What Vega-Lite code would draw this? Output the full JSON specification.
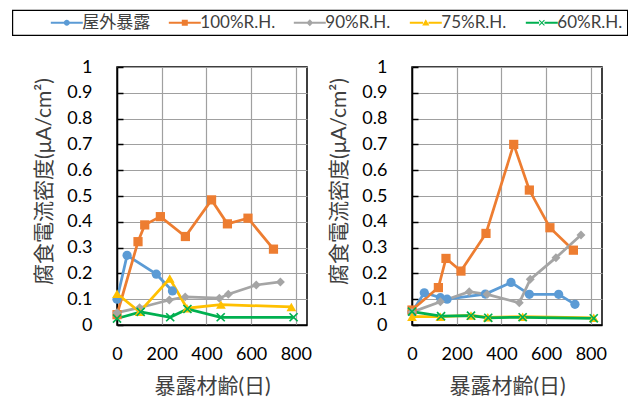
{
  "$schema": "https://vega.github.io/schema/vega-lite/v6.json",
  "background": "white",
  "padding": {"left": 11, "top": 9, "right": 0, "bottom": 0},
  "datasets": {
    "d": [
      {"panel": "L", "series": "屋外暴露", "day": 0, "i": 0.10},
      {"panel": "L", "series": "屋外暴露", "day": 45, "i": 0.27},
      {"panel": "L", "series": "屋外暴露", "day": 176, "i": 0.197},
      {"panel": "L", "series": "屋外暴露", "day": 248, "i": 0.132},
      {"panel": "L", "series": "100%R.H.", "day": 0, "i": 0.04},
      {"panel": "L", "series": "100%R.H.", "day": 94, "i": 0.323},
      {"panel": "L", "series": "100%R.H.", "day": 124, "i": 0.388},
      {"panel": "L", "series": "100%R.H.", "day": 194, "i": 0.42},
      {"panel": "L", "series": "100%R.H.", "day": 306, "i": 0.343},
      {"panel": "L", "series": "100%R.H.", "day": 423, "i": 0.485},
      {"panel": "L", "series": "100%R.H.", "day": 494, "i": 0.392},
      {"panel": "L", "series": "100%R.H.", "day": 586, "i": 0.414},
      {"panel": "L", "series": "100%R.H.", "day": 700, "i": 0.294},
      {"panel": "L", "series": "90%R.H.", "day": 0, "i": 0.048},
      {"panel": "L", "series": "90%R.H.", "day": 101, "i": 0.067},
      {"panel": "L", "series": "90%R.H.", "day": 234, "i": 0.097},
      {"panel": "L", "series": "90%R.H.", "day": 305, "i": 0.109},
      {"panel": "L", "series": "90%R.H.", "day": 458, "i": 0.104},
      {"panel": "L", "series": "90%R.H.", "day": 498, "i": 0.119},
      {"panel": "L", "series": "90%R.H.", "day": 623, "i": 0.155},
      {"panel": "L", "series": "90%R.H.", "day": 731, "i": 0.167},
      {"panel": "L", "series": "75%R.H.", "day": 0, "i": 0.121},
      {"panel": "L", "series": "75%R.H.", "day": 101, "i": 0.051},
      {"panel": "L", "series": "75%R.H.", "day": 236, "i": 0.18},
      {"panel": "L", "series": "75%R.H.", "day": 313, "i": 0.065},
      {"panel": "L", "series": "75%R.H.", "day": 465, "i": 0.079},
      {"panel": "L", "series": "75%R.H.", "day": 780, "i": 0.07},
      {"panel": "L", "series": "60%R.H.", "day": 0, "i": 0.025},
      {"panel": "L", "series": "60%R.H.", "day": 106, "i": 0.051},
      {"panel": "L", "series": "60%R.H.", "day": 238, "i": 0.03},
      {"panel": "L", "series": "60%R.H.", "day": 315, "i": 0.062},
      {"panel": "L", "series": "60%R.H.", "day": 464, "i": 0.03},
      {"panel": "L", "series": "60%R.H.", "day": 790, "i": 0.03},
      {"panel": "R", "series": "屋外暴露", "day": 0, "i": 0.05},
      {"panel": "R", "series": "屋外暴露", "day": 55, "i": 0.125},
      {"panel": "R", "series": "屋外暴露", "day": 127, "i": 0.106},
      {"panel": "R", "series": "屋外暴露", "day": 157, "i": 0.10},
      {"panel": "R", "series": "屋外暴露", "day": 328, "i": 0.12},
      {"panel": "R", "series": "屋外暴露", "day": 443, "i": 0.165},
      {"panel": "R", "series": "屋外暴露", "day": 525, "i": 0.119},
      {"panel": "R", "series": "屋外暴露", "day": 656, "i": 0.119},
      {"panel": "R", "series": "屋外暴露", "day": 729, "i": 0.08},
      {"panel": "R", "series": "100%R.H.", "day": 0, "i": 0.058},
      {"panel": "R", "series": "100%R.H.", "day": 118, "i": 0.145},
      {"panel": "R", "series": "100%R.H.", "day": 152, "i": 0.258},
      {"panel": "R", "series": "100%R.H.", "day": 219, "i": 0.209},
      {"panel": "R", "series": "100%R.H.", "day": 331, "i": 0.355},
      {"panel": "R", "series": "100%R.H.", "day": 455, "i": 0.70},
      {"panel": "R", "series": "100%R.H.", "day": 525, "i": 0.523},
      {"panel": "R", "series": "100%R.H.", "day": 617, "i": 0.377},
      {"panel": "R", "series": "100%R.H.", "day": 722, "i": 0.29},
      {"panel": "R", "series": "90%R.H.", "day": 0, "i": 0.05},
      {"panel": "R", "series": "90%R.H.", "day": 127, "i": 0.09},
      {"panel": "R", "series": "90%R.H.", "day": 256, "i": 0.129},
      {"panel": "R", "series": "90%R.H.", "day": 336, "i": 0.119},
      {"panel": "R", "series": "90%R.H.", "day": 480, "i": 0.086},
      {"panel": "R", "series": "90%R.H.", "day": 529, "i": 0.177},
      {"panel": "R", "series": "90%R.H.", "day": 644, "i": 0.261},
      {"panel": "R", "series": "90%R.H.", "day": 756, "i": 0.349},
      {"panel": "R", "series": "75%R.H.", "day": 0, "i": 0.032},
      {"panel": "R", "series": "75%R.H.", "day": 127, "i": 0.032},
      {"panel": "R", "series": "75%R.H.", "day": 264, "i": 0.037},
      {"panel": "R", "series": "75%R.H.", "day": 339, "i": 0.03},
      {"panel": "R", "series": "75%R.H.", "day": 495, "i": 0.032},
      {"panel": "R", "series": "75%R.H.", "day": 813, "i": 0.028},
      {"panel": "R", "series": "60%R.H.", "day": 0, "i": 0.052},
      {"panel": "R", "series": "60%R.H.", "day": 130, "i": 0.034},
      {"panel": "R", "series": "60%R.H.", "day": 264, "i": 0.036},
      {"panel": "R", "series": "60%R.H.", "day": 341, "i": 0.028},
      {"panel": "R", "series": "60%R.H.", "day": 495, "i": 0.03},
      {"panel": "R", "series": "60%R.H.", "day": 813, "i": 0.026}
    ]
  },
  "spacing": 15,
  "hconcat": [
    {
      "width": 190,
      "height": 258,
      "data": {"name": "d"},
      "transform": [{"filter": "datum.panel === 'L'"}],
      "encoding": {
        "x": {"field": "day", "type": "quantitative", "title": "暴露材齢(日)",
              "scale": {"domain": [0, 850], "nice": false, "zero": true},
              "axis": {"values": [0, 200, 400, 600, 800]}},
        "y": {"field": "i", "type": "quantitative", "title": "腐食電流密度(μA/cm²)",
              "scale": {"domain": [0, 1], "nice": false},
              "axis": {"values": [0, 0.1, 0.2, 0.3, 0.4, 0.5, 0.6, 0.7, 0.8, 0.9, 1], "format": "~g"}},
        "color": {"field": "series", "type": "nominal", "title": " ",
                  "scale": {"domain": ["屋外暴露", "100%R.H.", "90%R.H.", "75%R.H.", "60%R.H."],
                            "range": ["#5B9BD5", "#ED7D31", "#A5A5A5", "#FFC000", "#00B050"]},
                  "legend": {"encode": {"symbols": {"update": {"shape": {"signal": "datum.value === '屋外暴露' ? 'M-5.33,-0.35H-0.9V0.35H-5.33Z M0.9,-0.35H5.33V0.35H0.9Z M-1,0A1,1 0 1,1 1,0A1,1 0 1,1 -1,0Z' : datum.value === '100%R.H.' ? 'M-5.33,-0.35H-0.9V0.35H-5.33Z M0.9,-0.35H5.33V0.35H0.9Z M-1,-1H1V1H-1Z' : datum.value === '90%R.H.' ? 'M-5.33,-0.35H-0.9V0.35H-5.33Z M0.9,-0.35H5.33V0.35H0.9Z M0,-1.15L1.15,0L0,1.15L-1.15,0Z' : datum.value === '75%R.H.' ? 'M-5.33,-0.35H-0.9V0.35H-5.33Z M0.9,-0.35H5.33V0.35H0.9Z M0,-1.2L1.2,0.9L-1.2,0.9Z' : 'M-5.33,-0.35H-0.9V0.35H-5.33Z M0.9,-0.35H5.33V0.35H0.9Z M-1,-0.75L-0.75,-1L0,-0.25L0.75,-1L1,-0.75L0.25,0L1,0.75L0.75,1L0,0.25L-0.75,1L-1,0.75L-0.25,0Z'"}, "fill": {"scale": "color", "field": "value"}, "stroke": {"value": "transparent"}}}}}}
      },
      "layer": [
        {"mark": {"type": "line", "strokeWidth": 2.75}},
        {"transform": [{"filter": "datum.series === '屋外暴露'"}], "mark": {"type": "point", "filled": true, "opacity": 1, "size": 85, "shape": "circle"}},
        {"transform": [{"filter": "datum.series === '100%R.H.'"}], "mark": {"type": "point", "filled": true, "opacity": 1, "size": 85, "shape": "square"}},
        {"transform": [{"filter": "datum.series === '90%R.H.'"}], "mark": {"type": "point", "filled": true, "opacity": 1, "size": 80, "shape": "diamond"}},
        {"transform": [{"filter": "datum.series === '75%R.H.'"}], "mark": {"type": "point", "filled": true, "opacity": 1, "size": 95, "shape": "triangle-up"}},
        {"transform": [{"filter": "datum.series === '60%R.H.'"}], "mark": {"type": "point", "filled": true, "opacity": 1, "size": 85, "shape": "M-1,-0.75L-0.75,-1L0,-0.25L0.75,-1L1,-0.75L0.25,0L1,0.75L0.75,1L0,0.25L-0.75,1L-1,0.75L-0.25,0Z"}}
      ]
    },
    {
      "width": 190,
      "height": 258,
      "data": {"name": "d"},
      "transform": [{"filter": "datum.panel === 'R'"}],
      "encoding": {
        "x": {"field": "day", "type": "quantitative", "title": "暴露材齢(日)",
              "scale": {"domain": [0, 850], "nice": false, "zero": true},
              "axis": {"values": [0, 200, 400, 600, 800]}},
        "y": {"field": "i", "type": "quantitative", "title": "腐食電流密度(μA/cm²)",
              "scale": {"domain": [0, 1], "nice": false},
              "axis": {"values": [0, 0.1, 0.2, 0.3, 0.4, 0.5, 0.6, 0.7, 0.8, 0.9, 1], "format": "~g"}},
        "color": {"field": "series", "type": "nominal", "title": " ",
                  "scale": {"domain": ["屋外暴露", "100%R.H.", "90%R.H.", "75%R.H.", "60%R.H."],
                            "range": ["#5B9BD5", "#ED7D31", "#A5A5A5", "#FFC000", "#00B050"]},
                  "legend": {"encode": {"symbols": {"update": {"shape": {"signal": "datum.value === '屋外暴露' ? 'M-5.33,-0.35H-0.9V0.35H-5.33Z M0.9,-0.35H5.33V0.35H0.9Z M-1,0A1,1 0 1,1 1,0A1,1 0 1,1 -1,0Z' : datum.value === '100%R.H.' ? 'M-5.33,-0.35H-0.9V0.35H-5.33Z M0.9,-0.35H5.33V0.35H0.9Z M-1,-1H1V1H-1Z' : datum.value === '90%R.H.' ? 'M-5.33,-0.35H-0.9V0.35H-5.33Z M0.9,-0.35H5.33V0.35H0.9Z M0,-1.15L1.15,0L0,1.15L-1.15,0Z' : datum.value === '75%R.H.' ? 'M-5.33,-0.35H-0.9V0.35H-5.33Z M0.9,-0.35H5.33V0.35H0.9Z M0,-1.2L1.2,0.9L-1.2,0.9Z' : 'M-5.33,-0.35H-0.9V0.35H-5.33Z M0.9,-0.35H5.33V0.35H0.9Z M-1,-0.75L-0.75,-1L0,-0.25L0.75,-1L1,-0.75L0.25,0L1,0.75L0.75,1L0,0.25L-0.75,1L-1,0.75L-0.25,0Z'"}, "fill": {"scale": "color", "field": "value"}, "stroke": {"value": "transparent"}}}}}}
      },
      "layer": [
        {"mark": {"type": "line", "strokeWidth": 2.75}},
        {"transform": [{"filter": "datum.series === '屋外暴露'"}], "mark": {"type": "point", "filled": true, "opacity": 1, "size": 85, "shape": "circle"}},
        {"transform": [{"filter": "datum.series === '100%R.H.'"}], "mark": {"type": "point", "filled": true, "opacity": 1, "size": 85, "shape": "square"}},
        {"transform": [{"filter": "datum.series === '90%R.H.'"}], "mark": {"type": "point", "filled": true, "opacity": 1, "size": 80, "shape": "diamond"}},
        {"transform": [{"filter": "datum.series === '75%R.H.'"}], "mark": {"type": "point", "filled": true, "opacity": 1, "size": 95, "shape": "triangle-up"}},
        {"transform": [{"filter": "datum.series === '60%R.H.'"}], "mark": {"type": "point", "filled": true, "opacity": 1, "size": 85, "shape": "M-1,-0.75L-0.75,-1L0,-0.25L0.75,-1L1,-0.75L0.25,0L1,0.75L0.75,1L0,0.25L-0.75,1L-1,0.75L-0.25,0Z"}}
      ]
    }
  ],
  "config": {
    "font": "Lato, 'Noto Sans CJK JP', sans-serif",
    "view": {"stroke": "#000000", "strokeWidth": 1.5},
    "axis": {
      "domainColor": "#000000", "domainWidth": 1.5,
      "gridColor": "#a0a0a0", "gridWidth": 1.2, "gridOpacity": 1,
      "labelFont": "Lato, 'Noto Sans CJK JP', sans-serif", "labelFontSize": 18, "labelColor": "#000000",
      "titleFont": "Lato, 'Noto Sans CJK JP', sans-serif", "titleFontSize": 21, "titleFontWeight": "normal", "titleColor": "#404040"
    },
    "axisX": {"ticks": false, "labelPadding": 20, "titlePadding": 12, "labelFlush": false},
    "axisY": {"tickSize": -6, "tickColor": "#000000", "tickWidth": 1.5, "labelPadding": 31, "titlePadding": 12, "titleY": 114, "labelFlush": false},
    "legend": {
      "orient": "none", "legendX": -104.7, "legendY": -57, "direction": "horizontal", "columns": 5, "gridAlign": "each",
      "strokeColor": "#000000", "strokeWidth": 1.2, "padding": 4, "fillColor": "#ffffff",
      "titleOrient": "left", "titleFontSize": 18, "titlePadding": 29,
      "labelFont": "Lato, 'Noto Sans CJK JP', sans-serif", "labelFontSize": 17, "labelColor": "#404040",
      "symbolSize": 36, "symbolOffset": 13, "labelOffset": 7, "columnPadding": 13,
      "symbolStrokeWidth": 0
    }
  }
}
